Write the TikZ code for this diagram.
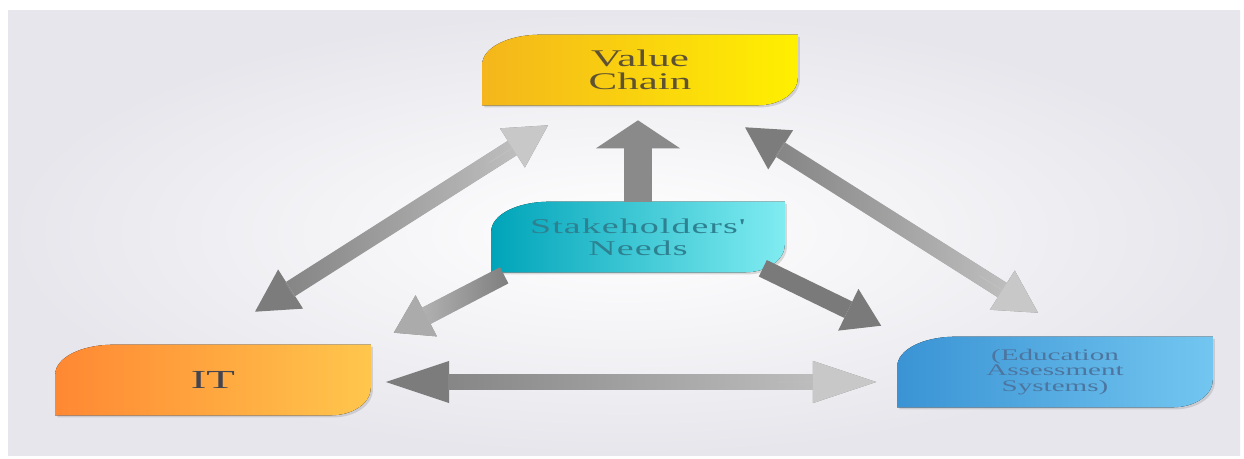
\documentclass[tikz,border=0pt]{standalone}
\usepackage{fontspec}
\setmainfont{Liberation Serif}
\newfontfamily\wideserif[FakeStretch=1.8]{Liberation Serif}
\newfontfamily\spacedserif[FakeStretch=1.8, LetterSpace=5]{Liberation Serif}
\usepackage{tikz}
\usetikzlibrary{arrows.meta,calc,backgrounds,shadows,fadings}

\definecolor{bgouter}{HTML}{E7E6EC}
\definecolor{vcleft}{HTML}{F4B61C}
\definecolor{vcright}{HTML}{FFF000}
\definecolor{vctext}{HTML}{5E5232}
\definecolor{shleft}{HTML}{00A4B9}
\definecolor{shright}{HTML}{80ECF1}
\definecolor{shtext}{HTML}{2E8190}
\definecolor{itleft}{HTML}{FF8833}
\definecolor{itright}{HTML}{FFC64C}
\definecolor{ittext}{HTML}{45454F}
\definecolor{edleft}{HTML}{3A93D4}
\definecolor{edright}{HTML}{72C6F0}
\definecolor{edtext}{HTML}{4C76A0}
\definecolor{arrowdark}{HTML}{7C7C7C}
\definecolor{arrowlight}{HTML}{C8C8C8}

\tikzfading[name=fadetoright, left color=transparent!100, right color=transparent!0]
\tikzfading[name=fadetoleft, left color=transparent!0, right color=transparent!100]

% leaf shaped box behind a node: round top left, round bottom right
\newcommand{\leafshape}[3]{%
  \fill[left color=#2, right color=#3,
        drop shadow={shadow xshift=1.5pt, shadow yshift=-1.5pt, opacity=0.3, fill=black!45}]
    (#1.south west) -- ($(#1.north west)+(0,30)$)
    .. controls ($(#1.north west)+(0,13)$) and ($(#1.north west)+(26,0)$) .. ($(#1.north west)+(58,0)$)
    -- (#1.north east) -- ($(#1.south east)+(0,-28)$)
    .. controls ($(#1.south east)+(0,-12)$) and ($(#1.south east)+(-18,0)$) .. ($(#1.south east)+(-40,0)$) -- cycle;
}

\begin{document}
\begin{tikzpicture}[x=0.025cm, y=-0.025cm]
  \tikzstyle{element}=[inner sep=0pt, minimum width=7.875cm, minimum height=1.75cm, align=center, font=\wideserif]
  \tikzstyle{twoway}=[line width=12pt, {Triangle[length=30pt,width=33pt,line width=0pt]}-{Triangle[length=30pt,width=33pt,line width=0pt]}]
  \tikzstyle{longtwoway}=[line width=11pt, {Triangle[length=45pt,width=30pt,line width=0pt]}-{Triangle[length=45pt,width=30pt,line width=0pt]}]
  \tikzstyle{oneway}=[line width=13pt, -{Triangle[length=26pt,width=33pt,line width=0pt]}]
  \tikzstyle{lighttip}=[arrowlight, line width=0.2pt, -{Triangle[length=30pt,width=33pt,line width=0pt]}]
  \tikzstyle{lightshaft}=[arrowlight, line width=12pt, shorten <=29pt, shorten >=29pt]

  \useasboundingbox (0,0) rectangle (1244,459);

  % value chain on top, stakeholders' needs in the middle
  \node[element, text=vctext, font=\wideserif\fontsize{17}{16}\selectfont] (valuechain) at (640,70) {Value\\Chain};
  \node[element, text=shtext, minimum width=7.325cm, font=\spacedserif\fontsize{15}{15.5}\selectfont] (needs) at (638,237) {Stakeholders'\\Needs};

  % = bottom corners =
  \node[element, text=ittext, font=\wideserif\fontsize{18.5}{20}\selectfont] (it) at (213,380) {IT};
  \node[element, text=edtext, font=\wideserif\fontsize{11.5}{11.2}\selectfont] (edu) at (1055,372) {(Education\\Assessment\\Systems)};

  \begin{pgfonlayer}{background}
    \fill[white] (0,0) rectangle (1244,459);
    \fill[inner color=white, outer color=bgouter] (8,11) rectangle (1240,455);
    \leafshape{valuechain}{vcleft}{vcright}
    \leafshape{needs}{shleft}{shright}
    \leafshape{it}{itleft}{itright}
    \leafshape{edu}{edleft}{edright}
  \end{pgfonlayer}

  % arrow ends
  \coordinate (it-up) at ($(it.north)+(42,-33)$);
  \coordinate (vc-left) at ($(valuechain.south)+(-92,20)$);
  \coordinate (vc-right) at ($(valuechain.south)+(105,22)$);
  \coordinate (vc-mid) at ($(valuechain.south)+(-2,15)$);
  \coordinate (edu-up) at ($(edu.north)+(-17,-24)$);
  \coordinate (it-right) at ($(it.east)+(15,2)$);
  \coordinate (edu-left) at ($(edu.west)+(-21,10)$);
  \coordinate (needs-sw) at ($(needs.south west)+(13,3)$);
  \coordinate (needs-se) at ($(needs.south east)+(-22,-4)$);
  \coordinate (it-ne) at ($(it.north east)+(23,-12)$);
  \coordinate (edu-nw) at ($(edu.north west)+(-16,-11)$);

  % = two way arrows round the triangle, dark end to light end =
  \draw[twoway, arrowdark] (it-up) -- (vc-left);
  \draw[lightshaft, path fading=fadetoright] (it-up) -- (vc-left);
  \draw[lighttip] ($(it-up)!0.8!(vc-left)$) -- (vc-left);

  \draw[twoway, arrowdark] (vc-right) -- (edu-up);
  \draw[lightshaft, path fading=fadetoright] (vc-right) -- (edu-up);
  \draw[lighttip] ($(vc-right)!0.8!(edu-up)$) -- (edu-up);

  \draw[longtwoway, arrowdark] (it-right) -- (edu-left);
  \draw[lightshaft, line width=11pt, shorten <=44pt, shorten >=44pt, path fading=fadetoright] (it-right) -- (edu-left);
  \draw[lighttip, -{Triangle[length=45pt,width=30pt,line width=0pt]}] ($(it-right)!0.8!(edu-left)$) -- (edu-left);

  % = needs feed the three others =
  \draw[oneway, line width=20pt, -{Triangle[length=20pt,width=60pt,line width=0pt]}, black!46] (needs.north) -- (vc-mid);
  \draw[oneway, arrowdark] (needs-sw) -- (it-ne);
  \draw[lightshaft, line width=13pt, shorten <=0pt, shorten >=25pt, path fading=fadetoleft] (needs-sw) -- (it-ne);
  \draw[lighttip, -{Triangle[length=26pt,width=33pt,line width=0pt]}, black!33] ($(needs-sw)!0.6!(it-ne)$) -- (it-ne);
  \draw[oneway, black!52] (needs-se) -- (edu-nw);
\end{tikzpicture}
\end{document}
